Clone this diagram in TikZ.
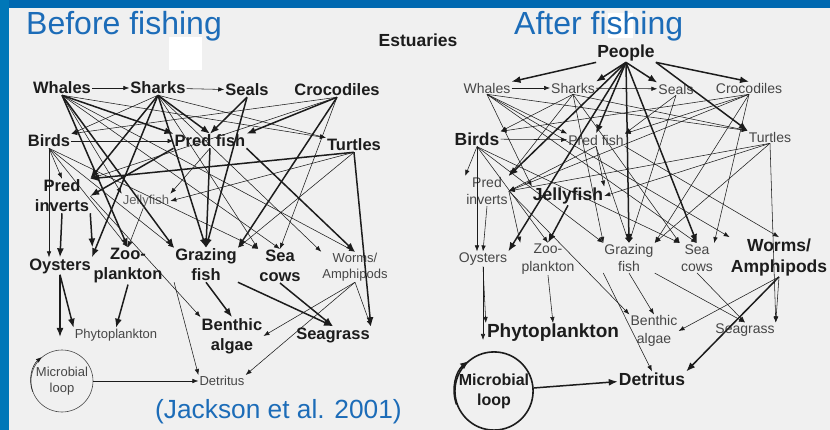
\documentclass[tikz,border=0pt]{standalone}
\usepackage{fontspec}
\setmainfont{Liberation Sans}
\usetikzlibrary{arrows.meta}
\definecolor{frameblue}{RGB}{0,104,176}
\definecolor{titleblue}{RGB}{28,108,184}
\definecolor{bgc}{RGB}{240,240,240}
\definecolor{ink}{RGB}{28,28,28}
\definecolor{inkl}{RGB}{70,70,70}
\begin{document}
\begin{tikzpicture}[x=1pt,y=-1pt,
  bl/.style={font=\fontsize{16.5}{20}\selectfont\bfseries, text=ink, inner sep=1pt, align=center},
  rl/.style={font=\fontsize{13}{16}\selectfont, text=inkl, inner sep=1pt, align=center},
  blr/.style={font=\fontsize{17.5}{21}\selectfont\bfseries, text=ink, inner sep=1pt, align=center},
  rlr/.style={font=\fontsize{14}{17.5}\selectfont, text=inkl, inner sep=1pt, align=center},
  tn/.style={draw=ink, line width=0.55pt, -{Latex[length=6pt,width=4.5pt]}},
  bd/.style={draw=ink, line width=1.5pt, -{Latex[length=9pt,width=7pt]}}]
\useasboundingbox (0,0) rectangle (830,430);
\fill[bgc] (0,0) rectangle (830,430);
\fill[frameblue] (0,0) rectangle (830,8.5);
\fill[frameblue!90!cyan] (0,0) rectangle (8.5,430);
\fill[white] (169,37) rectangle (202,70);
\fill[white] (608,13) rectangle (633,38);

% titles
\node[anchor=base west, inner sep=0, font=\fontsize{32}{32}\selectfont, text=titleblue] (tb) at (26,35) {Before fishing};
\node[anchor=base west, inner sep=0, font=\fontsize{32}{32}\selectfont, text=titleblue] (ta) at (514,35) {After fishing};
\node[font=\fontsize{17.5}{20}\selectfont\bfseries, text=ink] (es) at (418,40) {Estuaries};
\node[anchor=base west, inner sep=0, font=\fontsize{26.3}{26}\selectfont, text=titleblue] (jk) at (155,418) {(Jackson et al. 2001)};

% ---------------- left web ----------------
\node[bl] (wh) at (62,88) {Whales};
\node[bl] (sh) at (158,88) {Sharks};
\node[bl] (se) at (247,90) {Seals};
\node[bl] (cr) at (337,90) {Crocodiles};
\node[bl] (bi) at (49,141) {Birds};
\node[bl] (pf) at (210,141) {Pred fish};
\node[bl] (tu) at (354,145) {Turtles};
\node[bl] (pi) at (62,196) {Pred\\inverts};
\node[rl, text=inkl!85] (je) at (146,201) {Jellyfish};
\node[bl] (oy) at (60,266) {Oysters};
\node[bl] (zo) at (128,266) {Zoo-\\plankton};
\node[bl] (gf) at (206,265) {Grazing\\fish};
\node[bl] (sc) at (280,266) {Sea\\cows};
\node[rl] (wo) at (355,267) {Worms/\\Amphipods};
\node[rl] (ph) at (116,335) {Phytoplankton};
\node[bl] (ba) at (232,336) {Benthic\\algae};
\node[bl] (sg) at (333,335) {Seagrass};
\node[rl, circle, draw=inkl, line width=0.6pt, minimum size=62pt, inner sep=0pt] (ml) at (62,381) {Microbial\\loop};
\node[rl] (de) at (222,381) {Detritus};
\coordinate (oyend) at (60,337);

% thin
\draw[tn] (wh) -- (sh);
\draw[tn] (sh) -- (se);
\draw[tn] (bi) -- (pf);
\draw[tn] (wh.south) -- (tu.north west);
\draw[tn] (wh.south) -- (je.north west);
\draw[tn] (wh.south) -- (sc.north);
\draw[tn] (wh.south) -- (wo.north);
\draw[tn] (sh.south) -- (bi.north east);
\draw[tn] (sh.south) -- (sc.north west);
\draw[tn] (sh.south) -- (tu.north west);
\draw[tn] (sh.south) -- (wo.north west);
\draw[tn] (cr.south) -- (bi.north east);
\draw[tn] (cr.south) -- (sc.north);
\draw[tn] (cr.south) -- (pi.north east);
\draw[tn] (bi.south) -- (bi.south |- oy.north);
\draw[tn] (bi.south) -- (pi.north);
\draw[tn] (bi.south) -- (zo.north);
\draw[tn] (bi.south) -- (gf.north west);
\draw[tn] (bi.south) -- (sc.north west);
\draw[tn] (pf.south) -- (je.north east);
\draw[tn] (tu.south) -- (je.east);
\draw[tn] (tu.south) -- (gf.north east);
\draw[tn] (je) -- (zo.north);
\draw[tn] (pi.east) -- (ba.north west);
\draw[tn] (gf.south west) -- (de.north west);
\draw[tn] (wo.south) -- (ba.east);
\draw[tn] (wo.south) -- (sg.north east);
\draw[tn] (wo.south) -- (de.north east);
\draw[tn] (ml) -- (de);
\draw[tn] (ml.200) arc[start angle=-200, end angle=-130, radius=31.3];
% bold
\draw[bd] (wh.south) -- (pf.north west);
\draw[bd] (wh.south) -- (gf.north west);
\draw[bd] (wh.south) -- (zo.north);
\draw[bd] (sh.south) -- (pf.north);
\draw[bd] (sh.south) -- (pi.north east);
\draw[bd] (sh.south) -- (gf.north);
\draw[bd] (sh.south) -- (oy.north east);
\draw[bd] (se.south) -- (pf.north);
\draw[bd] (se.south) -- (gf.north);
\draw[bd] (cr.south) -- (pf.north east);
\draw[bd] (cr.south) -- (gf.north east);
\draw[bd] (pf.south west) -- (pi.east);
\draw[bd] (pf.south) -- (gf.north);
\draw[bd] (pf.south east) -- (wo.north);
\draw[bd] (tu.south) -- (pi.north east);
\draw[bd] (tu.south) -- (sg.north east);
\draw[bd] (pi.south) -- (oy.north);
\draw[bd] (pi.south east) -- (zo.north west);
\draw[bd] (oy.south) -- (ph.north west);
\draw[bd] (oy.south) -- (oyend);
\draw[bd] (zo.south) -- (ph.north);
\draw[bd] (gf.south) -- (ba.north);
\draw[bd] (gf.south east) -- (sg.north);
\draw[bd] (sc.south) -- (sg.north);

% ---------------- right web ----------------
\node[blr] (pe) at (626,53) {People};
\node[rlr] (whR) at (487,88) {Whales};
\node[rlr] (shR) at (573,88) {Sharks};
\node[rlr] (seR) at (676,89) {Seals};
\node[rlr] (crR) at (749,88) {Crocodiles};
\node[blr] (biR) at (477,139) {Birds};
\node[rlr] (pfR) at (596,140) {Pred fish};
\node[rlr] (tuR) at (770,137) {Turtles};
\node[rlr] (piR) at (487,191) {Pred\\inverts};
\node[blr] (jeR) at (568,196) {Jellyfish};
\node[rlr] (oyR) at (483,259) {Oysters};
\node[rlr] (zoR) at (548,259) {Zoo-\\plankton};
\node[rlr] (gfR) at (629,258) {Grazing\\fish};
\node[rlr] (scR) at (697,258) {Sea\\cows};
\node[blr] (woR) at (779,257) {Worms/\\Amphipods};
\node[blr, font=\fontsize{19}{22}\selectfont\bfseries] (phR) at (553,333) {Phytoplankton};
\node[rlr] (baR) at (654,331) {Benthic\\algae};
\node[rlr] (sgR) at (745,330) {Seagrass};
\node[font=\fontsize{16}{20}\selectfont\bfseries, text=ink, align=center, circle, draw=ink, line width=1.6pt, minimum size=76pt, inner sep=0pt] (mlR) at (494,391) {Microbial\\loop};
\node[blr] (deR) at (652,379) {Detritus};
\coordinate (oyRend) at (483,340);

% thin
\draw[tn] (whR) -- (shR);
\draw[tn] (shR) -- (seR);
\draw[tn] (biR) -- (pfR);
\draw[tn] (whR.south) -- (tuR.north west);
\draw[tn] (whR.south) -- (jeR.north west);
\draw[tn] (whR.south) -- (scR.north);
\draw[tn] (whR.south) -- (woR.north west);
\draw[tn] (whR.south) -- (pfR.north west);
\draw[tn] (shR.south) -- (biR.north east);
\draw[tn] (shR.south) -- (scR.north west);
\draw[tn] (shR.south) -- (tuR.north west);
\draw[tn] (shR.south) -- (gfR.north west);
\draw[tn] (shR.south) -- (piR.north east);
\draw[tn] (seR.south) -- (gfR.north);
\draw[tn] (seR.south) -- (pfR.north east);
\draw[tn] (crR.south) -- (biR.north east);
\draw[tn] (crR.south) -- (pfR.north east);
\draw[tn] (crR.south) -- (gfR.north east);
\draw[tn] (crR.south) -- (scR.north east);
\draw[tn] (crR.south) -- (piR.east);
\draw[tn] (biR.south) -- (biR.south |- oyR.north);
\draw[tn] (biR.south) -- (piR.north west);
\draw[tn] (biR.south) -- (zoR.north);
\draw[tn] (biR.south) -- (gfR.north west);
\draw[tn] (biR.south) -- (scR.north west);
\draw[tn] (pfR.south) -- (jeR.north east);
\draw[tn] (pfR.south) -- (piR.east);
\draw[tn] (pfR.south) -- (gfR.north);
\draw[tn] (pfR.south east) -- (woR.north);
\draw[tn] (tuR.south) -- (piR.east);
\draw[tn] (tuR.south) -- (jeR.east);
\draw[tn] (tuR.south) -- (sgR.north east);
\draw[tn] (tuR.south) -- (gfR.north east);
\draw[tn] (piR.south) -- (oyR.north);
\draw[tn] (piR.east) -- (zoR.north west);
\draw[tn] (piR.east) -- (baR.north west);
\draw[tn] (oyR.south) -- (phR.north west);
\draw[tn] (oyR.south) -- (oyRend);
\draw[tn] (zoR.south) -- (phR.north);
\draw[tn] (gfR.south) -- (baR.north);
\draw[tn] (gfR.south west) -- (deR.north);
\draw[tn] (gfR.south east) -- (sgR.north);
\draw[tn] (scR.south) -- (sgR.north);
\draw[tn] (woR.south) -- (baR.east);
\draw[tn] (woR.south) -- (sgR.north east);
% bold
\draw[bd] (pe.south west) -- (whR.north east);
\draw[bd] (pe.south) -- (shR.north east);
\draw[bd] (pe.south) -- (pfR.north);
\draw[bd] (pe.south) -- (seR.north west);
\draw[bd] (pe.south east) -- (crR.north);
\draw[bd] (pe.south east) -- (tuR.north west);
\draw[bd] (pe.south) -- (piR.north east);
\draw[bd] (pe.south) -- (oyR.north east);
\draw[bd] (pe.south) -- (gfR.north);
\draw[bd] (pe.south) -- (scR.north);
\draw[bd] (jeR.south) -- (zoR.north);
\draw[bd] (woR.south) -- (deR.north east);
\draw[bd] (mlR) -- (deR);
\draw[bd] (mlR.200) arc[start angle=-200, end angle=-128, radius=38.8];
\end{tikzpicture}
\end{document}
